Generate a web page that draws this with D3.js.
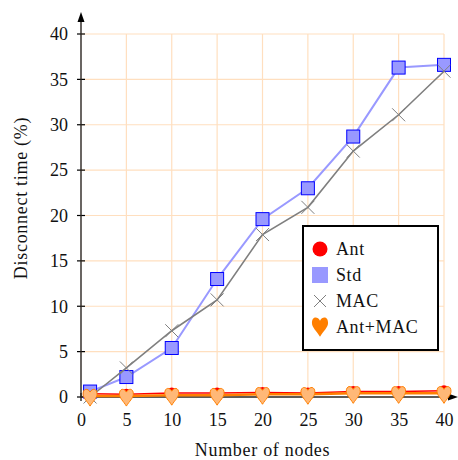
<!DOCTYPE html>
<html><head><meta charset="utf-8">
<script src="https://cdn.jsdelivr.net/npm/d3@7"></script>
<style>body{margin:0;background:#fff}svg{display:block}text{font-family:"Liberation Serif","Times New Roman",serif;fill:#111}</style>
</head><body>
<svg id="c" width="458" height="460"></svg>
<script>
const nodes = [1, 5, 10, 15, 20, 25, 30, 35, 40];
const antVals = [0.35, 0.3, 0.45, 0.45, 0.5, 0.45, 0.6, 0.6, 0.7];
const stdVals = [0.6, 2.2, 5.4, 13.0, 19.6, 23.0, 28.7, 36.3, 36.6];
const macVals = [0.0, 3.2, 7.3, 10.7, 17.9, 20.9, 27.1, 31.1, 35.9];
const antMacVals = [0.1, 0.1, 0.2, 0.2, 0.3, 0.3, 0.4, 0.4, 0.4];
const xTicks = [0, 5, 10, 15, 20, 25, 30, 35, 40];
const yTicks = [0, 5, 10, 15, 20, 25, 30, 35, 40];
const seriesNames = ["Ant", "Std", "MAC", "Ant+MAC"];

const svg = d3.select("#c");
const x = d3.scaleLinear().domain([0, 40]).range([81, 444]);
const y = d3.scaleLinear().domain([0, 40]).range([397, 34]);

// grid
const g = svg.append("g");
g.selectAll(".gv").data(xTicks.slice(1)).enter().append("line")
  .attr("x1", d => x(d)).attr("x2", d => x(d)).attr("y1", y(0)).attr("y2", y(40))
  .attr("stroke", "#ffdfbf").attr("stroke-width", 1.2);
g.selectAll(".gh").data(yTicks.slice(1)).enter().append("line")
  .attr("x1", x(0)).attr("x2", x(40)).attr("y1", d => y(d)).attr("y2", d => y(d))
  .attr("stroke", "#ffdfbf").attr("stroke-width", 1.2);

// axes
const axY = d3.axisLeft(y).tickValues(yTicks).tickSize(0).tickPadding(13);
const gy = svg.append("g").attr("transform", `translate(${x(0)},0)`).call(axY);
gy.select(".domain").remove();
gy.selectAll("text").attr("font-size", 18).attr("font-family", "Liberation Serif").attr("fill", "#111");
const axX = d3.axisBottom(x).tickValues(xTicks).tickSize(0).tickPadding(16);
const gx = svg.append("g").attr("transform", `translate(0,${y(0)})`).call(axX);
gx.select(".domain").remove();
gx.selectAll("text").attr("font-size", 18).attr("font-family", "Liberation Serif").attr("fill", "#111");

// tick marks crossing axes
svg.selectAll(".ty").data(yTicks).enter().append("line")
  .attr("x1", x(0) - 4).attr("x2", x(0) + 4).attr("y1", d => y(d)).attr("y2", d => y(d))
  .attr("stroke", "#000").attr("stroke-width", 1.2);
svg.selectAll(".tx").data(xTicks).enter().append("line")
  .attr("x1", d => x(d)).attr("x2", d => x(d)).attr("y1", y(0) - 4).attr("y2", y(0) + 4)
  .attr("stroke", "#000").attr("stroke-width", 1.2);

// axis lines with arrows
svg.append("line").attr("x1", x(0)).attr("x2", x(0)).attr("y1", y(0)).attr("y2", 20)
  .attr("stroke", "#2a2420").attr("stroke-width", 1.4);
svg.append("path").attr("d", `M${x(0)},12 L${x(0) - 3.5},22 L${x(0) + 3.5},22 Z`).attr("fill", "#000");
svg.append("line").attr("x1", x(0)).attr("x2", 449).attr("y1", y(0)).attr("y2", y(0))
  .attr("stroke", "#2a2420").attr("stroke-width", 1.4);
svg.append("path").attr("d", `M458,${y(0)} L448,${y(0) - 3.5} L448,${y(0) + 3.5} Z`).attr("fill", "#000");

const line = d3.line().x(d => x(d[0])).y(d => y(d[1]));
const heart = (s) => {
  const w = 7 * s;
  return `M0,${-2 * s} C${-2 * s},${-6 * s} ${-w},${-6 * s} ${-w},${0} C${-w},${4 * s} ${-3 * s},${7 * s} 0,${12 * s} C${3 * s},${7 * s} ${w},${4 * s} ${w},0 C${w},${-6 * s} ${2 * s},${-6 * s} 0,${-2 * s} Z`;
};

// Ant
const antD = nodes.map((n, i) => [n, antVals[i]]);
svg.append("path").attr("d", line(antD)).attr("fill", "none").attr("stroke", "#ff0000").attr("stroke-width", 1.5);
svg.selectAll(".ant").data(antD).enter().append("circle")
  .attr("cx", d => x(d[0])).attr("cy", d => y(d[1])).attr("r", 5.5).attr("fill", "#ff0000");

// Std
const stdD = nodes.map((n, i) => [n, stdVals[i]]);
svg.append("path").attr("d", line(stdD)).attr("fill", "none").attr("stroke", "#9999ff").attr("stroke-width", 2);
svg.selectAll(".std").data(stdD).enter().append("rect")
  .attr("x", d => x(d[0]) - 6.5).attr("y", d => y(d[1]) - 6.5).attr("width", 13).attr("height", 13)
  .attr("fill", "#9999ff").attr("stroke", "#0000ff").attr("stroke-width", 1);

// MAC
const macD = nodes.map((n, i) => [n, macVals[i]]);
svg.append("path").attr("d", line(macD)).attr("fill", "none").attr("stroke", "#7f7f7f").attr("stroke-width", 1.6);
svg.selectAll(".mac").data(macD).enter().append("path")
  .attr("d", d => { const cx = x(d[0]), cy = y(d[1]), r = 6.5; return `M${cx - r},${cy - r}L${cx + r},${cy + r}M${cx - r},${cy + r}L${cx + r},${cy - r}`; })
  .attr("stroke", "#7f7f7f").attr("stroke-width", 1).attr("fill", "none");

// Ant+MAC
const amD = nodes.map((n, i) => [n, antMacVals[i]]);
svg.append("path").attr("d", line(amD)).attr("fill", "none").attr("stroke", "#ff7f00").attr("stroke-width", 2.5);
svg.selectAll(".am").data(amD).enter().append("path")
  .attr("transform", d => `translate(${x(d[0])},${y(d[1]) - 2})`)
  .attr("d", heart(1)).attr("fill", "#ffb877").attr("stroke", "#ff7f00").attr("stroke-width", 1);

// axis labels
svg.append("text").attr("x", x(20)).attr("y", 456).attr("text-anchor", "middle")
  .attr("font-size", 18).attr("letter-spacing", 0.7).text("Number of nodes");
svg.append("text").attr("transform", `translate(27,198) rotate(-90)`)
  .attr("text-anchor", "middle").attr("font-size", 18).attr("letter-spacing", 0.7).text("Disconnect time (%)");

// legend
const lg = svg.append("g");
lg.append("rect").attr("x", 303).attr("y", 226).attr("width", 135).attr("height", 124)
  .attr("fill", "#fff").attr("stroke", "#000").attr("stroke-width", 2);
const ly = [249, 275, 301, 327];
const lx = 320;
lg.append("circle").attr("cx", lx).attr("cy", ly[0]).attr("r", 7.5).attr("fill", "#ff0000");
lg.append("rect").attr("x", lx - 8).attr("y", ly[1] - 8).attr("width", 16).attr("height", 16).attr("fill", "#9999ff");
lg.append("path").attr("d", `M${lx - 6},${ly[2] - 6}L${lx + 6},${ly[2] + 6}M${lx - 6},${ly[2] + 6}L${lx + 6},${ly[2] - 6}`)
  .attr("stroke", "#7f7f7f").attr("stroke-width", 1);
lg.append("path").attr("transform", `translate(${lx},${ly[3] - 4})`).attr("d", heart(1.15)).attr("fill", "#ff7f00");
lg.selectAll(".lt").data(seriesNames).enter().append("text")
  .attr("x", 336).attr("y", (d, i) => ly[i] + 6).attr("font-size", 18).attr("letter-spacing", 0.6).text(d => d);
</script>
</body></html>
